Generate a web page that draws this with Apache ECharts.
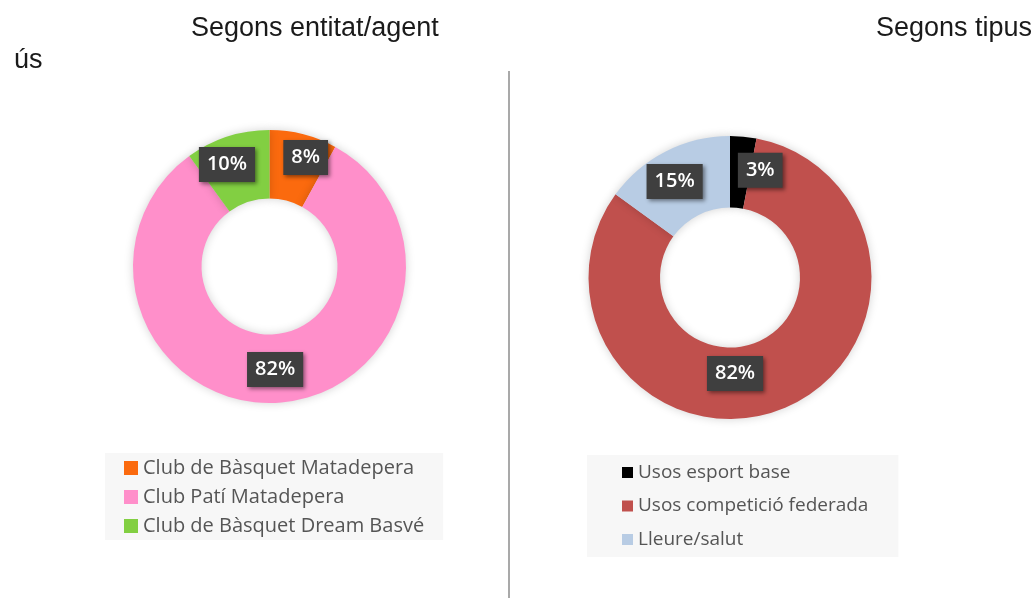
<!DOCTYPE html>
<html>
<head>
<meta charset="utf-8">
<script src="https://cdn.jsdelivr.net/npm/echarts@6/dist/echarts.min.js"></script>
<style>
  html, body { margin: 0; padding: 0; background: #ffffff; }
  #chart { width: 1036px; height: 598px; }
</style>
</head>
<body>
<div id="chart"></div>
<script>
// Usage share by entity / agent
const entitats = ['Club de Bàsquet Matadepera', 'Club Patí Matadepera', 'Club de Bàsquet Dream Basvé'];
const entitatsPct = [8, 82, 10];
const entitatsColors = ['#fb6a0e', '#ff8fca', '#82cf42'];

// Usage share by type of use
const tipus = ['Usos esport base', 'Usos competició federada', 'Lleure/salut'];
const tipusPct = [3, 82, 15];
const tipusColors = ['#000000', '#c0504d', '#b8cce4'];

// Label nudges so the small slices keep their boxes clear of each other
const entitatsLabelOffset = [[10, -7], [-1, -2], [-10, -2]];
const tipusLabelOffset = [[20, 1], [-35, -5], [-6, 1]];

const labelStyle = {
  show: true,
  position: 'inside',
  formatter: '{c}%',
  color: '#ffffff',
  fontFamily: 'Open Sans',
  fontWeight: 600,
  fontSize: 20,
  backgroundColor: '#3f3f3f',
  padding: [8, 8, 7, 8],
  shadowBlur: 4,
  shadowColor: 'rgba(0,0,0,0.45)',
  shadowOffsetX: 2,
  shadowOffsetY: 2
};

function buildData(names, values, colors, offsets) {
  return names.map((n, i) => ({
    name: n,
    value: values[i],
    itemStyle: { color: colors[i] },
    label: { offset: offsets[i] }
  }));
}

const titleText = { fontFamily: 'Liberation Sans', fontWeight: 'normal', fontSize: 27, color: '#1a1a1a' };

const chart = echarts.init(document.getElementById('chart'));
chart.setOption({
  backgroundColor: '#ffffff',
  animation: false,
  title: [
    { text: 'Segons entitat/agent', left: 186, top: 10, textStyle: titleText },
    { text: 'ús', left: 9, top: 42, textStyle: titleText },
    { text: 'Segons tipus', left: 871, top: 10, textStyle: titleText }
  ],
  graphic: [
    { type: 'line', shape: { x1: 509, y1: 71, x2: 509, y2: 598 },
      style: { stroke: '#8c8c8c', lineWidth: 1.5 } }
  ],
  legend: [
    {
      data: entitats, orient: 'vertical', left: 105, top: 453,
      icon: 'rect', itemWidth: 14, itemHeight: 14, itemGap: 9,
      backgroundColor: '#f7f7f7', padding: [5, 19, 4, 19],
      textStyle: { fontFamily: 'Open Sans', fontSize: 20, color: '#555555' },
      selectedMode: false
    },
    {
      data: tipus, orient: 'vertical', left: 587, top: 455,
      icon: 'rect', itemWidth: 11, itemHeight: 11, itemGap: 14.5,
      backgroundColor: '#f7f7f7', padding: [8, 30, 8, 35],
      textStyle: { fontFamily: 'Open Sans', fontSize: 19, color: '#555555' },
      selectedMode: false
    }
  ],
  series: [
    {
      type: 'pie',
      center: [269.5, 266.5],
      radius: [68, 136.5],
      startAngle: 90,
      clockwise: true,
      avoidLabelOverlap: false,
      itemStyle: { shadowBlur: 10, shadowColor: 'rgba(0,0,0,0.18)' },
      label: labelStyle,
      labelLine: { show: false },
      data: buildData(entitats, entitatsPct, entitatsColors, entitatsLabelOffset)
    },
    {
      type: 'pie',
      center: [730, 277.5],
      radius: [70, 141.5],
      startAngle: 90,
      clockwise: true,
      avoidLabelOverlap: false,
      itemStyle: { shadowBlur: 10, shadowColor: 'rgba(0,0,0,0.18)' },
      label: labelStyle,
      labelLine: { show: false },
      data: buildData(tipus, tipusPct, tipusColors, tipusLabelOffset)
    }
  ]
});
</script>
</body>
</html>
